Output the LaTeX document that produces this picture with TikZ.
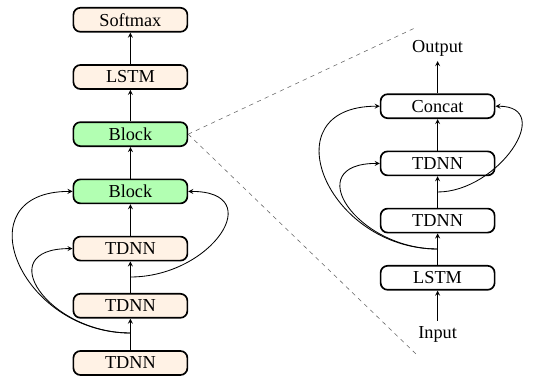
\documentclass[tikz,border=0pt]{standalone}
\usepackage{fontspec}
\setmainfont{Liberation Serif}
\usepackage{tikz}
\usetikzlibrary{arrows, calc}

\begin{document}
\begin{tikzpicture}[every node/.style={
	            font=\fontsize{13}{15}\selectfont,
	            },
	            box/.style={
	            draw,
	            very thick,
	            rounded corners=5pt,
	            minimum width=2.85cm,
	            minimum height=0.6cm,
	            inner sep=0pt,
	            fill=orange!10,
	            },
	            blk/.style={box, fill=green!30},
	            rbox/.style={box, fill=white},
	            >=stealth,
	            every path/.style={
                    semithick
                }]

	        \useasboundingbox (0,0) rectangle (13.375,9.45);

	        % left column
	        \node[box] (sm) at (3.26,8.955) {Softmax};
	        \node[box] (lstm) at (3.26,7.525) {LSTM};
	        \node[blk] (blk1) at (3.26,6.095) {Block};
	        \node[blk] (blk2) at (3.26,4.665) {Block};
	        \node[box] (td1) at (3.26,3.235) {TDNN};
	        \node[box] (td2) at (3.26,1.805) {TDNN};
	        \node[box] (td3) at (3.26,0.375) {TDNN};

	        \coordinate (j1) at (3.26,1.125);
	        \coordinate (j2) at (3.26,2.525);

	        \draw[->] (td3) -- (td2);
	        \draw[->] (td2) -- (td1);
	        \draw[->] (td1) -- (blk2);
	        \draw[->] (blk2) -- (blk1);
	        \draw[->] (blk1) -- (lstm);
	        \draw[->] (lstm) -- (sm);

	        \draw[->] (j1) to[out=180, in=180, looseness=1.85] (blk2.west);
	        \draw[->] (j1) to[out=180, in=180, looseness=2.05] (td1.west);
	        \draw[->] (j2) to[out=0, in=0, looseness=2.0] (blk2.east);

	        % right column
	        \node (out) at (10.94,8.25) {Output};
	        \node[rbox] (cat) at (10.94,6.795) {Concat};
	        \node[rbox] (rtd2) at (10.94,5.365) {TDNN};
	        \node[rbox] (rtd1) at (10.94,3.935) {TDNN};
	        \node[rbox] (rlstm) at (10.94,2.505) {LSTM};
	        \node (in) at (10.94,1.1) {Input};

	        \coordinate (j3) at (10.94,3.225);
	        \coordinate (j4) at (10.94,4.65);

	        \draw[->] (in) -- (rlstm);
	        \draw[->] (rlstm) -- (rtd1);
	        \draw[->] (rtd1) -- (rtd2);
	        \draw[->] (rtd2) -- (cat);
	        \draw[->] (cat) -- (out);

	        \draw[->] (j3) to[out=180, in=180, looseness=1.85] (cat.west);
	        \draw[->] (j3) to[out=180, in=180, looseness=2.0] (rtd2.west);
	        \draw[->] (j4) to[out=0, in=0, looseness=1.5] (cat.east);

	        % zoom lines
	        \coordinate (zt) at (10.425,8.775);
	        \coordinate (zb) at (10.425,0.575);
	        \draw[dashed, thin, gray!80!black] (blk1.east) -- (zt);
	        \draw[dashed, thin, gray!80!black] (blk1.east) -- (zb);

	    \end{tikzpicture}
\end{document}
